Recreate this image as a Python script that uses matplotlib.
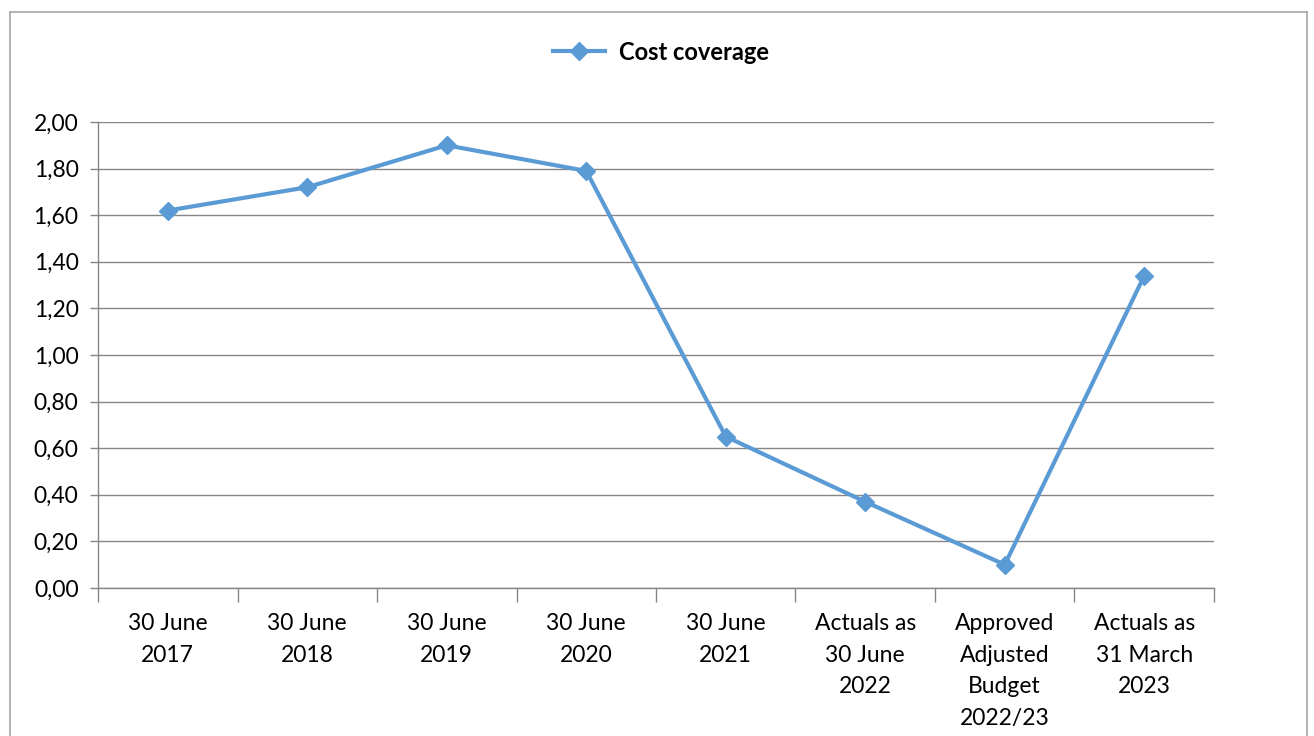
import matplotlib
matplotlib.use("Agg")
import matplotlib.pyplot as plt
from matplotlib.lines import Line2D

categories = ["30 June\n2017", "30 June\n2018", "30 June\n2019", "30 June\n2020",
              "30 June\n2021", "Actuals as\n30 June\n2022", "Approved\nAdjusted\nBudget\n2022/23",
              "Actuals as\n31 March\n2023"]
values = [1.62, 1.72, 1.90, 1.79, 0.65, 0.37, 0.10, 1.34]
yticks = [0.0, 0.2, 0.4, 0.6, 0.8, 1.0, 1.2, 1.4, 1.6, 1.8, 2.0]
series_name = "Cost coverage"

plt.rcParams['font.family'] = ['Lato', 'DejaVu Sans']
W, H = 1314, 736
fig = plt.figure(figsize=(W / 100, H / 100), dpi=100)

# outer border
border_col = "#a6a6a6"
fig.add_artist(Line2D([10 / W, 10 / W], [0, 1 - 12 / H], transform=fig.transFigure, color=border_col, lw=1.2))
fig.add_artist(Line2D([1307 / W, 1307 / W], [0, 1 - 12 / H], transform=fig.transFigure, color=border_col, lw=1.2))
fig.add_artist(Line2D([10 / W, 1307 / W], [1 - 12 / H, 1 - 12 / H], transform=fig.transFigure, color=border_col, lw=1.2))

left, right, top, bottom = 98, 1214, 122, 588
ax = fig.add_axes([left / W, 1 - bottom / H, (right - left) / W, (bottom - top) / H])

color = "#5b9bd5"
x = list(range(len(values)))
ax.plot(x, values, color=color, lw=3, marker="D", markersize=9, label=series_name, zorder=3)

ax.set_xlim(-0.5, len(values) - 0.5)
ax.set_ylim(0, 2.0)
ax.set_yticks(yticks)
ax.set_yticklabels([f"{v:.2f}".replace(".", ",") for v in yticks], fontsize=16.5)
ax.yaxis.grid(True, color="#868686", lw=1)
ax.set_axisbelow(True)

ax.set_xticks([i + 0.5 for i in range(-1, len(values))], minor=False)
ax.set_xticklabels([])
ax.set_xticks(x, minor=True)
ax.set_xticklabels(categories, minor=True, fontsize=16.5, linespacing=1.62)
ax.tick_params(axis="x", which="major", length=10, color="#868686", width=1)
ax.tick_params(axis="x", which="minor", length=0, pad=18)
ax.tick_params(axis="y", length=6, color="#868686", width=1, pad=8)

for s in ["top", "right"]:
    ax.spines[s].set_visible(False)
for s in ["left", "bottom"]:
    ax.spines[s].set_color("#868686")
    ax.spines[s].set_linewidth(1)

leg = fig.legend(loc="center", bbox_to_anchor=(661 / W, 1 - 52 / H), frameon=False,
                 prop={"weight": "bold", "size": 17}, handlelength=2.2, handletextpad=0.6)

fig.savefig("out.png", dpi=100)
